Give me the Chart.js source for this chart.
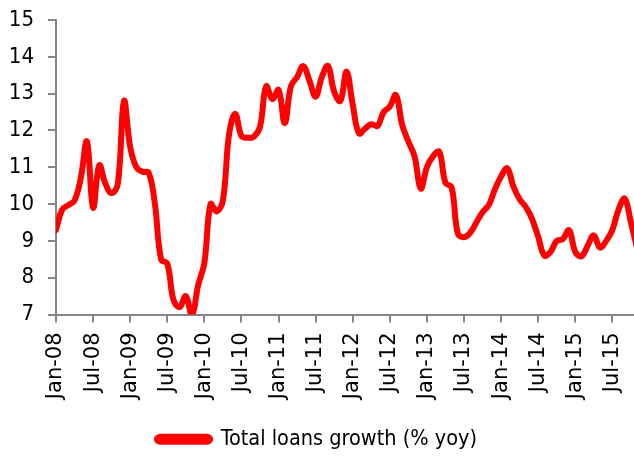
<!DOCTYPE html>
<html>
<head>
<meta charset="utf-8">
<script src="https://cdn.jsdelivr.net/npm/chart.js@4"></script>
<style>
  body { margin: 0; background: #fff; }
  #wrap { width: 634px; height: 460px; }
</style>
</head>
<body>
<div id="wrap"><canvas id="loansChart" width="634" height="460"></canvas></div>
<script>
// Tick labels every 6 months (Jan-08 .. Jul-15)
const tickLabels = ['Jan-08', 'Jul-08', 'Jan-09', 'Jul-09', 'Jan-10', 'Jul-10', 'Jan-11', 'Jul-11',
  'Jan-12', 'Jul-12', 'Jan-13', 'Jul-13', 'Jan-14', 'Jul-14', 'Jan-15', 'Jul-15'];

// Total loans growth, % yoy, monthly from Jan-08
const loanGrowth = [
  9.3, 9.85, 9.97, 10.1, 10.7, 11.7, 9.9, 11.05, 10.55, 10.3, 10.55, 12.8,      // 2008
  11.55, 11.0, 10.88, 10.85, 10.0, 8.5, 8.38, 7.4, 7.2, 7.5, 6.98, 7.8,         // 2009
  8.4, 10.0, 9.8, 10.1, 11.9, 12.45, 11.85, 11.8, 11.83, 12.1, 13.2, 12.85,     // 2010
  13.1, 12.2, 13.2, 13.45, 13.75, 13.35, 12.92, 13.45, 13.75, 13.05, 12.8, 13.6, // 2011
  12.7, 11.92, 12.05, 12.17, 12.12, 12.5, 12.65, 12.96, 12.15, 11.7, 11.3, 10.42, // 2012
  11.0, 11.3, 11.42, 10.58, 10.45, 9.2, 9.1, 9.22, 9.5, 9.78, 9.97, 10.4,       // 2013
  10.75, 10.97, 10.47, 10.13, 9.92, 9.6, 9.11, 8.6, 8.7, 9.0, 9.05, 9.29,       // 2014
  8.7, 8.58, 8.87, 9.15, 8.82, 9.0, 9.3, 9.85, 10.15, 9.5, 8.8                  // 2015
];

const seriesName = 'Total loans growth (% yoy)';
const axisGrey = '#868686';
const narrowFont = "'DejaVu Sans Condensed', 'DejaVu Sans', sans-serif";
const wideFont = "'DejaVu Sans', sans-serif";

const points = loanGrowth.map((v, i) => ({ x: i, y: v }));

const ctx = document.getElementById('loansChart').getContext('2d');
new Chart(ctx, {
  type: 'line',
  data: {
    datasets: [{
      label: seriesName,
      data: points,
      borderColor: '#ff0000',
      backgroundColor: '#ff0000',
      borderWidth: 6,
      tension: 0.4,
      pointRadius: 0,
      borderCapStyle: 'round',
      borderJoinStyle: 'round',
      fill: false,
    }],
  },
  options: {
    responsive: false,
    animation: false,
    layout: { padding: { top: 0, right: 0, left: 0, bottom: 0 } },
    plugins: {
      tooltip: { enabled: false },
      legend: {
        position: 'bottom',
        labels: {
          boxWidth: 53,
          boxHeight: 5,
          padding: 8,
          color: '#000',
          font: { size: 21.5, family: narrowFont },
          useBorderRadius: true,
          borderRadius: 3,
        },
      },
    },
    scales: {
      x: {
        type: 'linear',
        min: 0,
        max: 93.5,
        afterFit: (scale) => {
          scale.height = 106;
          scale.paddingRight = 0;
        },
        border: { color: axisGrey, width: 2 },
        grid: { drawOnChartArea: false, drawTicks: true, tickLength: 8, color: axisGrey, lineWidth: 2 },
        ticks: {
          stepSize: 6,
          includeBounds: false,
          autoSkip: false,
          minRotation: 90,
          maxRotation: 90,
          padding: 10,
          color: '#000',
          font: { size: 21, family: wideFont },
          callback: (value) => tickLabels[value / 6],
        },
      },
      y: {
        min: 7,
        max: 15,
        afterFit: (scale) => {
          scale.width = 56;
          scale.paddingTop = 20;
        },
        border: { color: axisGrey, width: 2 },
        grid: { drawOnChartArea: false, drawTicks: true, tickLength: 8, color: axisGrey, lineWidth: 2 },
        ticks: {
          stepSize: 1,
          padding: 14,
          color: '#000',
          font: { size: 22, family: narrowFont },
        },
      },
    },
  },
});
</script>
</body>
</html>
